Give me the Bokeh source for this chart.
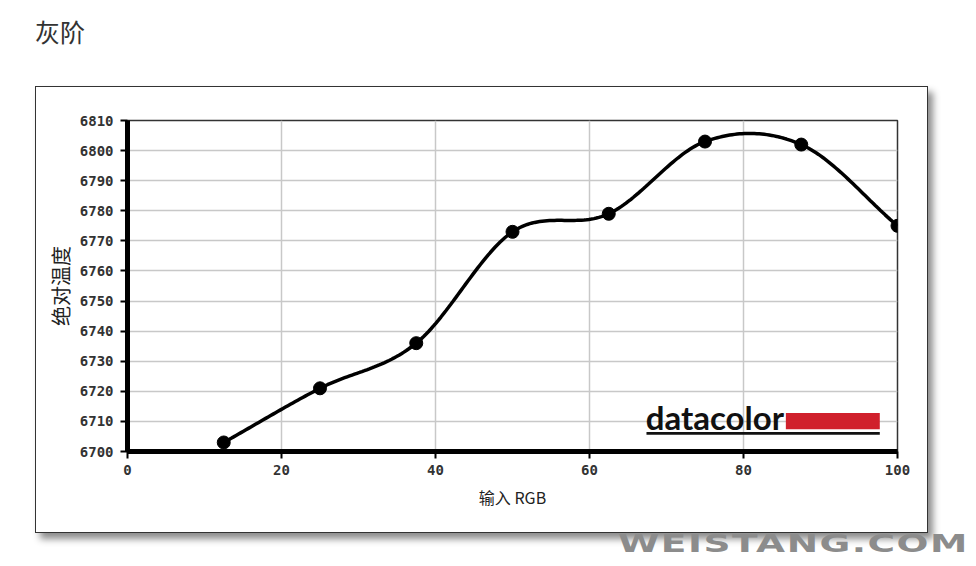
import numpy as np
from bokeh.plotting import figure
from bokeh.models import Div, Label, BoxAnnotation, ColumnDataSource
from bokeh.layouts import column
from bokeh.embed import file_html
from bokeh.resources import INLINE

# ---- data ----
rgb_input = [12.5, 25, 37.5, 50, 62.5, 75, 87.5, 100]
cct_values = [6703, 6721, 6736, 6773, 6779, 6803, 6802, 6775]
x_ticks = [0, 20, 40, 60, 80, 100]
y_ticks = [6700, 6710, 6720, 6730, 6740, 6750, 6760, 6770, 6780, 6790, 6800, 6810]
title_text = "灰阶"
x_label = "输入 RGB"
y_label = "绝对温度"

# ---- smooth (Catmull-Rom / cubic Hermite) curve through the data points ----
xs = np.array(rgb_input, dtype=float)
ys = np.array(cct_values, dtype=float)
slopes = np.gradient(ys, xs)
cx, cy = [], []
for i in range(len(xs) - 1):
    h = xs[i + 1] - xs[i]
    t = np.linspace(0, 1, 40)
    h00 = 2 * t**3 - 3 * t**2 + 1
    h10 = t**3 - 2 * t**2 + t
    h01 = -2 * t**3 + 3 * t**2
    h11 = t**3 - t**2
    seg_y = h00 * ys[i] + h10 * h * slopes[i] + h01 * ys[i + 1] + h11 * h * slopes[i + 1]
    seg_x = xs[i] + t * h
    cx.extend(seg_x.tolist())
    cy.extend(seg_y.tolist())

pts = ColumnDataSource(dict(x=rgb_input, y=cct_values))
curve = ColumnDataSource(dict(x=cx, y=cy))

p = figure(width=893, height=447, x_range=(0, 100), y_range=(6700, 6810),
           output_backend="svg", toolbar_location=None,
           min_border_left=91, min_border_right=32, min_border_top=33, min_border_bottom=83,
           background_fill_color="white", border_fill_color="white",
           margin=(0, 0, 0, 35),
           styles={"border": "1px solid #333",
                   "box-shadow": "5px 6px 7px rgba(0,0,0,0.45)"})

p.outline_line_color = "#333333"
p.outline_line_width = 1.5

p.line("x", "y", source=curve, line_color="black", line_width=3.5)
p.scatter("x", "y", source=pts, size=13, fill_color="black", line_color="black")

tick_font = "DejaVu Sans Mono"
for ax in (p.xaxis[0], p.yaxis[0]):
    ax.axis_line_width = 5
    ax.axis_line_color = "black"
    ax.major_tick_out = 7
    ax.major_tick_in = 0
    ax.major_tick_line_width = 2
    ax.major_tick_line_color = "black"
    ax.minor_tick_line_color = None
    ax.major_label_text_font = tick_font
    ax.major_label_text_font_style = "bold"
    ax.major_label_text_font_size = "14px"
    ax.major_label_text_color = "#333333"
    ax.axis_label_text_font = "Noto Sans CJK SC"
    ax.axis_label_text_font_style = "normal"
    ax.axis_label_text_color = "#222222"

p.xaxis.ticker = x_ticks
p.yaxis.ticker = y_ticks
p.xaxis.major_label_standoff = 6
p.yaxis.major_label_standoff = 7
p.xaxis.axis_label = x_label
p.yaxis.axis_label = y_label
p.xaxis.axis_label_text_font_size = "16px"
p.yaxis.axis_label_text_font_size = "20px"
p.xaxis.axis_label_standoff = 7
p.yaxis.axis_label_standoff = 2

p.xgrid.grid_line_color = "#c8c8c8"
p.ygrid.grid_line_color = "#c8c8c8"
p.xgrid.grid_line_width = 1.5
p.ygrid.grid_line_width = 1.5

# ---- datacolor logo ----
p.add_layout(Label(x=67.3, y=6711.6, text="datacolor", text_font="Lato",
                   text_font_style="bold", text_font_size="33px", text_color="#111111",
                   text_baseline="alphabetic"))
p.add_layout(BoxAnnotation(left=85.5, right=97.7, bottom=6707.4, top=6712.8,
                           fill_color="#d0202c", fill_alpha=1, line_color=None))
p.add_layout(BoxAnnotation(left=67.4, right=97.7, bottom=6705.6, top=6706.5,
                           fill_color="#111111", fill_alpha=1, line_color=None))

title = Div(text=title_text, width=300, height=72, margin=(14, 0, 0, 35),
            styles={"font-size": "25px", "font-family": "Noto Sans CJK SC",
                    "color": "#333333"})

wm = Div(text='<span style="display:inline-block; transform:scaleX(1.5); '
              'transform-origin:left; letter-spacing:1px;">WEISTANG.COM</span>',
         width=350, height=24, margin=(0, 0, 0, 618),
         styles={"font-size": "25px", "font-family": "DejaVu Sans", "font-weight": "bold",
                 "color": "#8c8c8c", "line-height": "21px"})

layout = column(title, p, wm)
open("out.html", "w").write(file_html(layout, INLINE))
